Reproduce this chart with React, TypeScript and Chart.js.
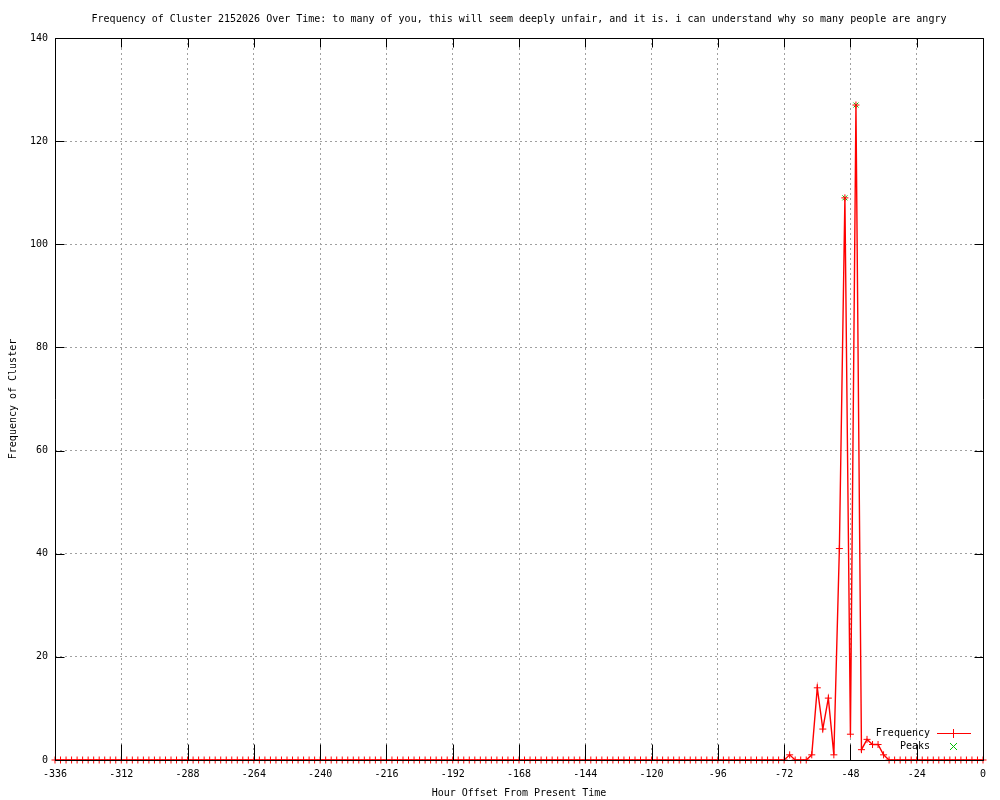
import React, { useEffect, useRef } from 'react';
import { Chart, registerables } from 'chart.js';

Chart.register(...registerables);

const TITLE =
  'Frequency of Cluster 2152026 Over Time: to many of you, this will seem deeply unfair, and it is. i can understand why so many people are angry';
const X_TITLE = 'Hour Offset From Present Time';
const Y_TITLE = 'Frequency of Cluster';
const SERIES_LABELS = ['Frequency', 'Peaks'];

const hours = [
  -336, -334, -332, -330, -328, -326, -324, -322, -320, -318, -316, -314,
  -312, -310, -308, -306, -304, -302, -300, -298, -296, -294, -292, -290,
  -288, -286, -284, -282, -280, -278, -276, -274, -272, -270, -268, -266,
  -264, -262, -260, -258, -256, -254, -252, -250, -248, -246, -244, -242,
  -240, -238, -236, -234, -232, -230, -228, -226, -224, -222, -220, -218,
  -216, -214, -212, -210, -208, -206, -204, -202, -200, -198, -196, -194,
  -192, -190, -188, -186, -184, -182, -180, -178, -176, -174, -172, -170,
  -168, -166, -164, -162, -160, -158, -156, -154, -152, -150, -148, -146,
  -144, -142, -140, -138, -136, -134, -132, -130, -128, -126, -124, -122,
  -120, -118, -116, -114, -112, -110, -108, -106, -104, -102, -100, -98,
  -96, -94, -92, -90, -88, -86, -84, -82, -80, -78, -76, -74,
  -72, -70, -68, -66, -64, -62, -60, -58, -56, -54, -52, -50,
  -48, -46, -44, -42, -40, -38, -36, -34, -32, -30, -28, -26,
  -24, -22, -20, -18, -16, -14, -12, -10, -8, -6, -4, -2,
  0,
];

const frequency = [
  0, 0, 0, 0, 0, 0, 0, 0, 0, 0, 0, 0,
  0, 0, 0, 0, 0, 0, 0, 0, 0, 0, 0, 0,
  0, 0, 0, 0, 0, 0, 0, 0, 0, 0, 0, 0,
  0, 0, 0, 0, 0, 0, 0, 0, 0, 0, 0, 0,
  0, 0, 0, 0, 0, 0, 0, 0, 0, 0, 0, 0,
  0, 0, 0, 0, 0, 0, 0, 0, 0, 0, 0, 0,
  0, 0, 0, 0, 0, 0, 0, 0, 0, 0, 0, 0,
  0, 0, 0, 0, 0, 0, 0, 0, 0, 0, 0, 0,
  0, 0, 0, 0, 0, 0, 0, 0, 0, 0, 0, 0,
  0, 0, 0, 0, 0, 0, 0, 0, 0, 0, 0, 0,
  0, 0, 0, 0, 0, 0, 0, 0, 0, 0, 0, 0,
  0, 1, 0, 0, 0, 1, 14, 6, 12, 1, 41, 109,
  5, 127, 2, 4, 3, 3, 1, 0, 0, 0, 0, 0,
  0, 0, 0, 0, 0, 0, 0, 0, 0, 0, 0, 0,
  0,
];

const peakHours = [-50, -46];
const peakValues = [109, 127];

const X_MIN = -336;
const X_MAX = 0;
const X_STEP = 24;
const Y_MIN = 0;
const Y_MAX = 140;
const Y_STEP = 20;

const FONT_FAMILY = "'DejaVu Sans Mono', 'Liberation Mono', monospace";
const RED = '#ff0000';
const GREEN = '#00c000';

const al = (v: number) => Math.round(v) + 0.5;

const framePlugin = {
  id: 'gnuFrame',
  afterDatasetsDraw(chart: any) {
    const { ctx, chartArea, scales } = chart;
    const { left, right, top, bottom } = chartArea;
    ctx.save();
    ctx.globalAlpha = 1;
    ctx.strokeStyle = '#000000';
    ctx.lineWidth = 1;
    ctx.setLineDash([]);
    ctx.beginPath();
    ctx.rect(al(left), al(top), Math.round(right) - Math.round(left), Math.round(bottom) - Math.round(top));
    ctx.stroke();
    const xs = scales.x;
    const ys = scales.y;
    ctx.beginPath();
    xs.ticks.forEach((t: any) => {
      const px = al(xs.getPixelForValue(t.value));
      ctx.moveTo(px, al(bottom));
      ctx.lineTo(px, al(bottom) - 16);
      ctx.moveTo(px, al(top));
      ctx.lineTo(px, al(top) + 9);
    });
    ys.ticks.forEach((t: any) => {
      const py = al(ys.getPixelForValue(t.value));
      ctx.moveTo(al(left), py);
      ctx.lineTo(al(left) + 9, py);
      ctx.moveTo(al(right), py);
      ctx.lineTo(al(right) - 9, py);
    });
    ctx.stroke();
    ctx.restore();
  },
  afterDraw(chart: any) {
    const { ctx } = chart;
    ctx.save();
    ctx.globalAlpha = 1;
    ctx.globalCompositeOperation = 'source-over';
    ctx.font = `10px ${FONT_FAMILY}`;
    ctx.fillStyle = '#000000';
    ctx.textAlign = 'right';
    ctx.textBaseline = 'middle';
    const textRight = 930;
    const y1 = 733;
    const y2 = 746;
    ctx.fillText(chart.data.datasets[0].label, textRight, y1);
    ctx.fillText(chart.data.datasets[1].label, textRight, y2);
    // Frequency sample: red line with a "+" marker
    ctx.fillStyle = RED;
    ctx.fillRect(937, y1, 34, 1);
    ctx.fillRect(953, y1 - 4, 1, 9);
    // Peaks sample: green "x"
    ctx.fillStyle = GREEN;
    for (let d = -3; d <= 3; d++) {
      ctx.fillRect(953 + d, y2 + d, 1, 1);
      ctx.fillRect(953 + d, y2 - d, 1, 1);
    }
    ctx.restore();
  },
};

export default function App() {
  const canvasRef = useRef<HTMLCanvasElement | null>(null);

  useEffect(() => {
    if (!canvasRef.current) return;
    const font = { family: FONT_FAMILY, size: 10 };
    const chart = new Chart(canvasRef.current, {
      type: 'line',
      data: {
        datasets: [
          {
            label: SERIES_LABELS[0],
            data: hours.map((h, i) => ({ x: h, y: frequency[i] })),
            borderColor: RED,
            backgroundColor: RED,
            borderWidth: 1.4,
            pointStyle: 'cross',
            pointRadius: 3.5,
            pointBorderWidth: 1,
            pointBorderColor: RED,
            tension: 0,
            fill: false,
            clip: false as any,
          },
          {
            label: SERIES_LABELS[1],
            data: peakHours.map((h, i) => ({ x: h, y: peakValues[i] })),
            showLine: false,
            borderColor: GREEN,
            backgroundColor: GREEN,
            pointStyle: 'crossRot',
            pointRadius: 3.5,
            pointBorderWidth: 1,
            pointBorderColor: GREEN,
            clip: false as any,
          },
        ],
      },
      options: {
        animation: false,
        responsive: false,
        devicePixelRatio: 1,
        events: [],
        layout: { padding: { left: 0, right: 17, top: 0, bottom: 0 } },
        plugins: {
          legend: { display: false },
          tooltip: { enabled: false },
          title: {
            display: true,
            text: TITLE,
            color: '#000000',
            font: { ...font, weight: 'normal' },
            padding: { top: 13, bottom: 13 },
            fullSize: false,
          },
        },
        scales: {
          x: {
            type: 'linear',
            min: X_MIN,
            max: X_MAX,
            ticks: {
              stepSize: X_STEP,
              autoSkip: false,
              maxRotation: 0,
              padding: 8,
              color: '#000000',
              font,
            },
            grid: { color: '#a0a0a0', lineWidth: 1, drawTicks: false },
            border: { display: false, dash: [2, 3] },
            title: {
              display: true,
              text: X_TITLE,
              color: '#000000',
              font,
              padding: { top: 0, bottom: 1 },
            },
            afterFit(scale: any) {
              scale.height = 40;
            },
          },
          y: {
            type: 'linear',
            min: Y_MIN,
            max: Y_MAX,
            ticks: {
              stepSize: Y_STEP,
              padding: 7,
              color: '#000000',
              font,
            },
            grid: { color: '#a0a0a0', lineWidth: 1, drawTicks: false },
            border: { display: false, dash: [2, 3] },
            title: {
              display: true,
              text: Y_TITLE,
              color: '#000000',
              font,
              padding: { top: 7, bottom: 0 },
            },
            afterFit(scale: any) {
              scale.width = 55;
            },
          },
        },
      } as any,
      plugins: [framePlugin],
    });
    return () => chart.destroy();
  }, []);

  return (
    <div style={{ position: 'fixed', left: 0, top: 0, width: 1000, height: 800, background: '#ffffff' }}>
      <canvas ref={canvasRef} width={1000} height={800} style={{ width: 1000, height: 800, display: 'block' }} />
    </div>
  );
}
